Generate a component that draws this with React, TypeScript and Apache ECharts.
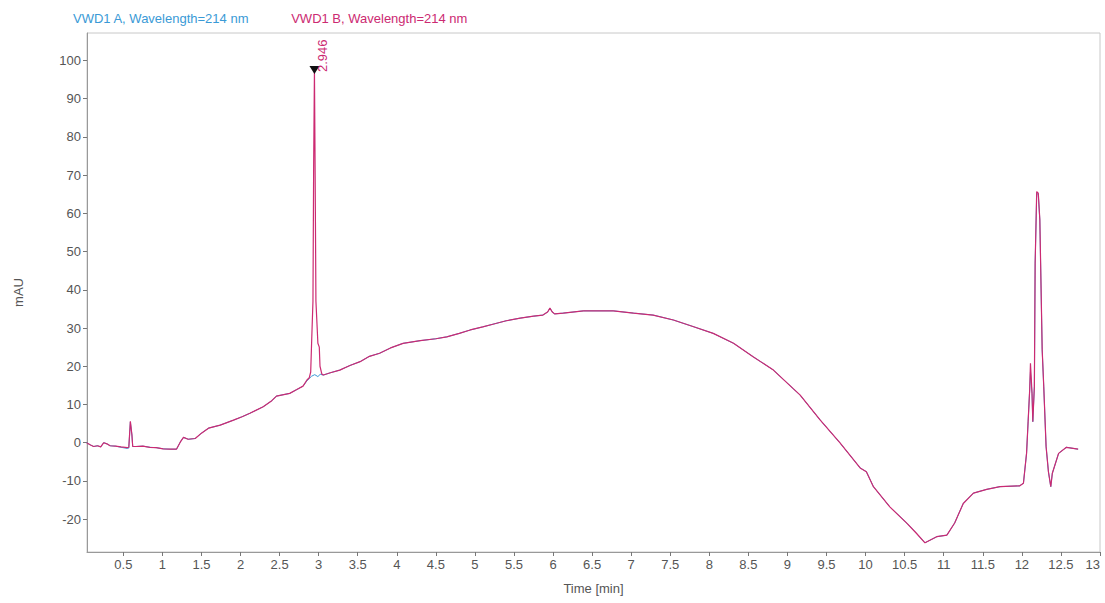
import React, { useEffect, useRef } from "react";
import * as echarts from "echarts";

const nameA = "VWD1 A, Wavelength=214 nm";
const nameB = "VWD1 B, Wavelength=214 nm";

const timeB = [
  0.03, 0.08, 0.12, 0.17, 0.21, 0.25, 0.29, 0.33, 0.4, 0.47, 0.55, 0.57, 0.59, 0.61, 0.62, 0.66, 0.75, 0.84,
  0.92, 1.01, 1.1, 1.18, 1.23, 1.27, 1.33, 1.42, 1.5, 1.59, 1.74, 1.91, 2.02, 2.12, 2.29, 2.4, 2.46, 2.63,
  2.72, 2.8, 2.85, 2.88, 2.898, 2.911, 2.927, 2.936, 2.946, 2.955, 2.965, 2.99, 3.008, 3.017, 3.04, 3.06,
  3.15, 3.27, 3.4, 3.53, 3.65, 3.78, 3.92, 4.08, 4.3, 4.5, 4.64, 4.8, 4.94, 5.1, 5.23, 5.4, 5.58, 5.75,
  5.87, 5.93, 5.96, 5.99, 6.02, 6.13, 6.39, 6.77, 7.03, 7.28, 7.54, 7.79, 8.05, 8.31, 8.56, 8.82, 9.07,
  9.16, 9.42, 9.67, 9.93, 10.01, 10.1, 10.31, 10.53, 10.65, 10.76, 10.91, 11.04, 11.14, 11.25, 11.38,
  11.55, 11.72, 11.97, 12.02, 12.06, 12.08, 12.1, 12.11, 12.13, 12.14, 12.16, 12.17, 12.19, 12.21, 12.23,
  12.24, 12.26, 12.28, 12.31, 12.34, 12.37, 12.39, 12.47, 12.57, 12.72,
];
const valueB = [
  0, -0.6, -1, -0.8, -1.1, 0, -0.3, -0.8, -0.9, -1.1, -1.3, -1.2, 5.6, 2, -1, -1, -0.9, -1.2,
  -1.3, -1.6, -1.7, -1.7, 0.2, 1.4, 0.9, 1.1, 2.5, 3.8, 4.6, 5.9, 6.8, 7.7, 9.4, 11, 12.2, 12.9,
  13.9, 14.8, 16.4, 17, 18.5, 27, 37, 73, 97.5, 70, 37, 26, 25, 20, 18, 17.7,
  18.3, 19, 20.2, 21.2, 22.6, 23.4, 24.8, 26, 26.7, 27.2, 27.7, 28.6, 29.5, 30.3, 31, 31.9, 32.6, 33.1,
  33.4, 34.2, 35.2, 34.2, 33.7, 33.9, 34.5, 34.5, 33.9, 33.4, 32.1, 30.4, 28.6, 26, 22.5, 19, 14.2,
  12.5, 5.9, 0, -6.6, -7.6, -11.5, -16.8, -21.1, -23.7, -26.2, -24.6, -24.2, -21, -15.9, -13.2,
  -12.2, -11.5, -11.3, -10.6, -2.8, 5.5, 13.8, 20.8, 12.9, 5.5, 14.7, 47, 65.7, 65.3, 58.3,
  47, 24.3, 14.7, -1, -7.6, -11.5, -8, -2.8, -1.2, -1.7,
];

const timeA = [
  0.03, 0.08, 0.12, 0.17, 0.21, 0.25, 0.29, 0.33, 0.4, 0.47, 0.55, 0.57, 0.59, 0.61, 0.62, 0.66, 0.75, 0.84,
  0.92, 1.01, 1.1, 1.18, 1.23, 1.27, 1.33, 1.42, 1.5, 1.59, 1.74, 1.91, 2.02, 2.12, 2.29, 2.4, 2.46, 2.63,
  2.72, 2.8, 2.85, 2.88, 2.91, 2.95, 2.99, 3.02, 3.06,
  3.15, 3.27, 3.4, 3.53, 3.65, 3.78, 3.92, 4.08, 4.3, 4.5, 4.64, 4.8, 4.94, 5.1, 5.23, 5.4, 5.58, 5.75,
  5.87, 5.93, 5.96, 5.99, 6.02, 6.13, 6.39, 6.77, 7.03, 7.28, 7.54, 7.79, 8.05, 8.31, 8.56, 8.82, 9.07,
  9.16, 9.42, 9.67, 9.93, 10.01, 10.1, 10.31, 10.53, 10.65, 10.76, 10.91, 11.04, 11.14, 11.25, 11.38,
  11.55, 11.72, 11.97, 12.02, 12.06, 12.08, 12.1, 12.11, 12.13, 12.14, 12.16, 12.17, 12.19, 12.21, 12.23,
  12.24, 12.26, 12.28, 12.31, 12.34, 12.37, 12.39, 12.47, 12.57, 12.72,
];
const valueA = [
  0, -0.6, -1, -0.8, -1.1, 0, -0.3, -0.8, -0.9, -1.2, -1.5, -1.4, 5.4, 2, -1, -1, -0.9, -1.2,
  -1.3, -1.6, -1.7, -1.7, 0.2, 1.4, 0.9, 1.1, 2.5, 3.8, 4.6, 5.9, 6.8, 7.7, 9.4, 11, 12.2, 12.9,
  13.9, 14.8, 16.2, 16.8, 17.4, 17.8, 17.3, 17.9, 17.7,
  18.3, 19, 20.2, 21.2, 22.6, 23.4, 24.8, 26, 26.7, 27.2, 27.7, 28.6, 29.5, 30.3, 31, 31.9, 32.6, 33.1,
  33.4, 34.2, 35.2, 34.2, 33.7, 33.9, 34.5, 34.5, 33.9, 33.4, 32.1, 30.4, 28.6, 26, 22.5, 19, 14.2,
  12.5, 5.9, 0, -6.6, -7.6, -11.5, -16.8, -21.1, -23.7, -26.2, -24.6, -24.2, -21, -15.9, -13.2,
  -12.2, -11.5, -11.3, -10.6, -2.8, 5.5, 13.8, 18.5, 12.9, 5.5, 14.7, 47, 65.2, 65, 58.3,
  47, 24.3, 14.7, -1, -7.6, -11.5, -8, -2.8, -1.2, -1.7,
];

const yTicks = [-20, -10, 0, 10, 20, 30, 40, 50, 60, 70, 80, 90, 100];
const xTicks = [0.5, 1, 1.5, 2, 2.5, 3, 3.5, 4, 4.5, 5, 5.5, 6, 6.5, 7, 7.5, 8, 8.5, 9, 9.5, 10, 10.5, 11, 11.5, 12, 12.5, 13];

const peakTime = 2.946;
const peakValue = 97.5;

const colorA = "#3a9ad6";
const colorB = "#cc2a72";
const FONT = "'Liberation Sans', Arial, sans-serif";

export default function App() {
  const ref = useRef<HTMLDivElement>(null);
  useEffect(() => {
    if (!ref.current) return;
    const chart = echarts.init(ref.current, undefined, { renderer: "svg" });
    const dataA = timeA.map((t, i) => [t, valueA[i]]);
    const dataB = timeB.map((t, i) => [t, valueB[i]]);
    const axisLabel = { color: "#555", fontSize: 13, fontFamily: FONT };
    chart.setOption({
      animation: false,
      backgroundColor: "#fff",
      textStyle: { fontFamily: FONT },
      legend: {
        left: 63,
        top: 6,
        icon: "none",
        itemWidth: 0,
        itemGap: 37,
        selectedMode: false,
        textStyle: { fontSize: 13, fontFamily: FONT },
        data: [
          { name: nameA, textStyle: { color: colorA, fontSize: 13, fontFamily: FONT } },
          { name: nameB, textStyle: { color: colorB, fontSize: 13, fontFamily: FONT } },
        ],
      },
      grid: {
        left: 87,
        right: 5,
        top: 33,
        bottom: 51,
        outerBoundsMode: "none",
        containLabel: false,
        show: true,
        borderColor: "#c8c8c8",
        borderWidth: 1,
      },
      xAxis: {
        type: "value",
        min: 0.035,
        max: 13,
        name: "Time [min]",
        nameLocation: "middle",
        nameGap: 30,
        nameTextStyle: { color: "#555", fontSize: 13, fontFamily: FONT },
        axisLine: { onZero: false, lineStyle: { color: "#999" } },
        axisTick: { show: true, customValues: xTicks, length: 4, lineStyle: { color: "#777" } },
        axisLabel: { ...axisLabel, customValues: xTicks, margin: 6, alignMaxLabel: "right" },
        splitLine: { show: false },
      },
      yAxis: {
        type: "value",
        min: -28.6,
        max: 107.2,
        name: "mAU",
        nameLocation: "middle",
        nameGap: 62,
        nameRotate: 90,
        nameTextStyle: { color: "#555", fontSize: 13, fontFamily: FONT },
        axisLine: { show: true, onZero: false, lineStyle: { color: "#999" } },
        axisTick: { show: true, customValues: yTicks, length: 4, lineStyle: { color: "#777" } },
        axisLabel: { ...axisLabel, customValues: yTicks, margin: 6 },
        splitLine: { show: false },
      },
      series: [
        {
          name: nameA,
          type: "line",
          data: dataA,
          showSymbol: false,
          symbol: "none",
          lineStyle: { color: colorA, width: 1 },
          itemStyle: { color: colorA },
        },
        {
          name: nameB,
          type: "line",
          data: dataB,
          showSymbol: false,
          symbol: "none",
          lineStyle: { color: colorB, width: 1.2 },
          itemStyle: { color: colorB },
          markPoint: {
            symbol: "triangle",
            symbolSize: [10, 8],
            symbolRotate: 180,
            itemStyle: { color: "#111" },
            data: [{ coord: [peakTime, peakValue] }],
            label: {
              show: true,
              formatter: String(peakTime),
              rotate: 90,
              position: [13, 6],
              align: "left",
              verticalAlign: "middle",
              color: colorB,
              fontSize: 13,
              fontFamily: FONT,
            },
          },
        },
      ],
    });
    return () => chart.dispose();
  }, []);
  return <div ref={ref} style={{ position: "fixed", left: 0, top: 0, width: 1105, height: 603 }} />;
}
